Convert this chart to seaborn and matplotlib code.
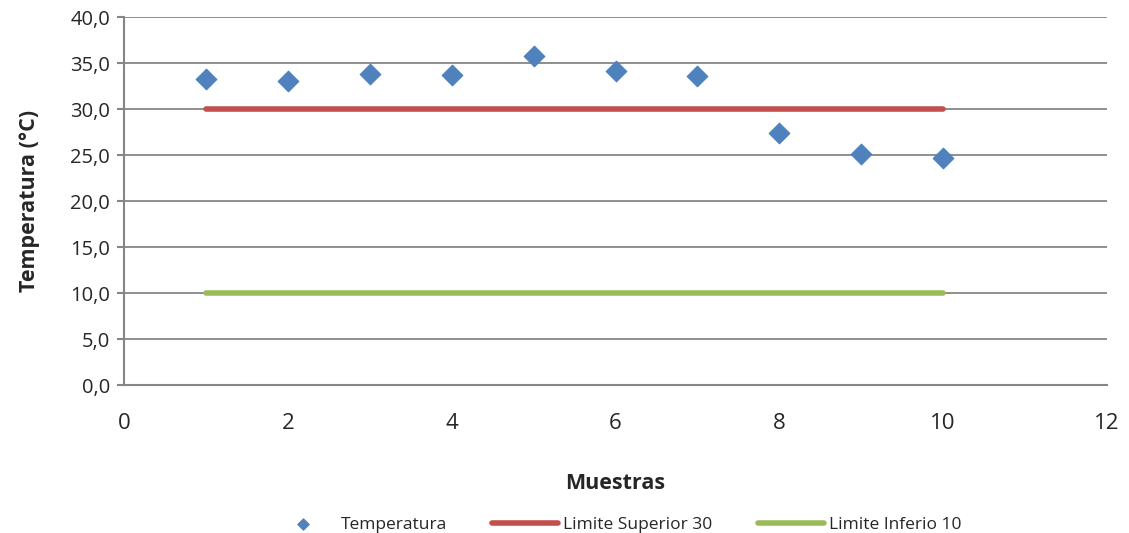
import numpy as np
import pandas as pd
import matplotlib
matplotlib.use('Agg')
import matplotlib.pyplot as plt
import seaborn as sns
from matplotlib.ticker import FuncFormatter

muestras = [1, 2, 3, 4, 5, 6, 7, 8, 9, 10]
temperatura = [33.3, 33.0, 33.8, 33.7, 35.8, 34.1, 33.6, 27.4, 25.1, 24.7]
lim_sup = [30] * 10
lim_inf = [10] * 10

df = pd.DataFrame({'Muestras': muestras, 'Temperatura': temperatura,
                   'sup': lim_sup, 'inf': lim_inf})

sns.set_style('white')
plt.rcParams['font.family'] = ['Open Sans', 'DejaVu Sans']

fig = plt.figure(figsize=(11.29, 5.33), dpi=100)
ax = fig.add_axes([124/1129, 1-385/533, (1107-124)/1129, (385-17)/533])

sns.scatterplot(data=df, x='Muestras', y='Temperatura', marker='D', s=110,
                color='#4f81bd', edgecolor='#4f81bd', ax=ax, label='Temperatura', zorder=3)
sns.lineplot(data=df, x='Muestras', y='sup', color='#c0504d', linewidth=4,
             ax=ax, label='Limite Superior 30', solid_capstyle='round', zorder=2)
sns.lineplot(data=df, x='Muestras', y='inf', color='#9bbb59', linewidth=4,
             ax=ax, label='Limite Inferio 10', solid_capstyle='round', zorder=2)

ax.set_xlim(0, 12)
ax.set_ylim(0, 40)
ax.set_xticks(range(0, 13, 2))
ax.set_yticks(np.arange(0, 41, 5))
ax.yaxis.set_major_formatter(FuncFormatter(lambda v, p: f'{v:.1f}'.replace('.', ',')))
ax.grid(axis='y', color='#868686', linewidth=1.3)
ax.set_axisbelow(True)
for s in ['top', 'right']:
    ax.spines[s].set_visible(False)
for s in ['left', 'bottom']:
    ax.spines[s].set_color('#868686')
    ax.spines[s].set_linewidth(1.5)
ax.tick_params(axis='y', which='major', length=5, color='#868686', width=1.5,
               labelsize=14.5, pad=5, left=True)
ax.tick_params(axis='x', length=0, labelsize=16, pad=20)

ax.set_xlabel('Muestras', fontsize=15.5, fontweight='bold', labelpad=28)
ax.set_ylabel('Temperatura (°C)', fontsize=15.5, fontweight='bold', labelpad=22)

leg = ax.legend(loc='upper center', bbox_to_anchor=(0.5, -0.315), ncol=3, frameon=False,
                fontsize=12.5, handlelength=3.8, columnspacing=2.6, handletextpad=0.3,
                markerscale=0.55)

fig.savefig('out.png', dpi=100)
